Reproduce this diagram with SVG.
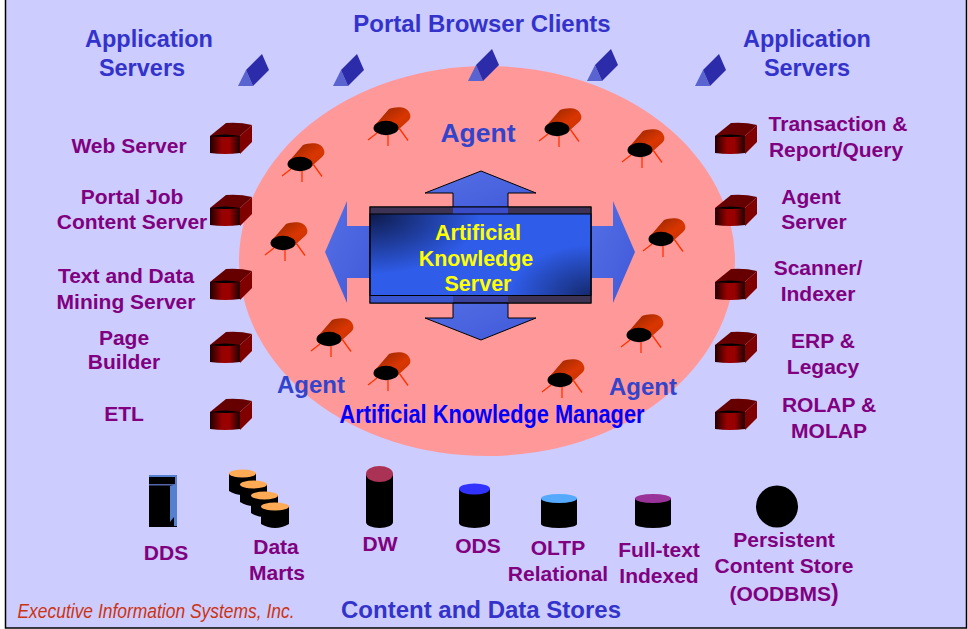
<svg xmlns="http://www.w3.org/2000/svg" width="968" height="629" viewBox="0 0 968 629">
<style>
text{font-family:"Liberation Sans",Arial,sans-serif;font-weight:bold;text-anchor:middle}
.p{fill:#800080;font-size:21px}
.b{fill:#3333cc;font-size:23.500px}
.y{fill:#ffff00;font-size:21.500px}
.leg{stroke:#ff3300;stroke-width:1.3;fill:none}
.arr{stroke:#000;stroke-width:1}
</style>
<defs>
<linearGradient id="cf" x1="0" x2="1" y1="0" y2="0"><stop offset="0" stop-color="#200000"/><stop offset=".4" stop-color="#990000"/><stop offset=".65" stop-color="#990000"/><stop offset="1" stop-color="#200000"/></linearGradient>
<linearGradient id="ag" x1="0" x2="1" y1="0" y2="1"><stop offset="0" stop-color="#8f2500"/><stop offset=".6" stop-color="#d93600"/><stop offset="1" stop-color="#c83200"/></linearGradient>
<radialGradient id="tl" cx="0" cy="0" r="1"><stop offset="0" stop-color="#0d1a4a"/><stop offset="1" stop-color="#0d1a4a" stop-opacity="0"/></radialGradient>
<radialGradient id="br" cx="1" cy="1" r="1"><stop offset="0" stop-color="#14296e"/><stop offset="1" stop-color="#14296e" stop-opacity="0"/></radialGradient>
<linearGradient id="cl" x1="0" x2="1" y1="0" y2="1"><stop offset="0" stop-color="#5570e6"/><stop offset="1" stop-color="#4058d8"/></linearGradient>
<symbol id="cube" overflow="visible">
<path d="M0 13L16 0Q30-1 42 2L30 13Z" fill="#660000"/>
<path d="M30 13L42 2V19L30 31Z" fill="#800000"/>
<path d="M0 13H30V30Q15 32 0 30Z" fill="url(#cf)"/>
<path d="M0 13Q15 10 30 13Q15 15 0 13Z" fill="#000"/>
</symbol>
<symbol id="agent" overflow="visible">
<path d="M-10-4L3-19C10-22 22-22 24-14C25-11 24-9 22-7L12 2Z" fill="url(#ag)"/>
<ellipse rx="12.500" ry="7.200" fill="#000"/>
<path class="leg" d="M-18 12L-9 5M2 7V18M13 0L22 12.500"/>
</symbol>
<symbol id="client" overflow="visible">
<path d="M0 32L8 16L15 32Z" fill="#5a64d0"/>
<path d="M8 16L24 0L31 16L15 32Z" fill="#2c2caa"/>
</symbol>
</defs>
<rect x="5.500" y="-2" width="961" height="630" fill="#ccccff" stroke="#000" stroke-width="1.500"/>
<ellipse id="manager-zone" cx="487" cy="261" rx="248" ry="195" fill="#ff9999"/>

<g id="connectors"></g>

<g id="server">
<path class="arr" fill="url(#cl)" d="M481 171L536 193H508V214H453V193H425Z"/>
<path class="arr" fill="url(#cl)" d="M453 295H508V318H536L481 340L425 318H453Z"/>
<path fill="url(#cl)" d="M325 252L347 201V226H372V278H347V303Z"/>
<path fill="url(#cl)" d="M635 252L613 201V226H590V278H613V303Z"/>
<rect x="370" y="207" width="221" height="96" fill="#3a3f9a" stroke="#000"/>
<rect x="370" y="207" width="221" height="8" fill="#3d3355"/>
<rect x="453" y="207" width="55" height="8" fill="#3a4cc8"/>
<rect x="370" y="295" width="83" height="8" fill="#3a55d0"/>
<rect x="508" y="295" width="83" height="8" fill="#3d3355"/>
<rect x="370" y="214" width="221" height="81.500" fill="#2f5ce8"/>
<rect x="370" y="214" width="110" height="60" fill="url(#tl)"/>
<rect x="511" y="245" width="80" height="50.500" fill="url(#br)"/>
<rect x="370" y="214" width="221" height="81.500" fill="none" stroke="#000"/>
<rect x="370" y="207" width="221" height="96" fill="none" stroke="#000"/>
<text class="y" x="478" y="240">Artificial</text>
<text class="y" x="476" y="266">Knowledge</text>
<text class="y" x="478" y="291">Server</text>
</g>

<g id="clients">
<use href="#client" x="238" y="54"/><use href="#client" x="333" y="54"/><use href="#client" x="468" y="49"/><use href="#client" x="587" y="49"/><use href="#client" x="695" y="54"/>
</g>
<g id="agents">
<use href="#agent" x="300" y="164"/><use href="#agent" x="386" y="128"/><use href="#agent" x="557" y="129"/><use href="#agent" x="640" y="150"/>
<use href="#agent" x="283" y="243"/><use href="#agent" x="661" y="239"/>
<use href="#agent" x="329" y="339"/><use href="#agent" x="639" y="335"/>
<use href="#agent" x="386" y="373"/><use href="#agent" x="560" y="380"/>
</g>
<g id="server-cubes">
<use href="#cube" x="210" y="123"/><use href="#cube" x="210" y="195"/><use href="#cube" x="210" y="269"/><use href="#cube" x="210" y="332"/><use href="#cube" x="210" y="399"/>
<use href="#cube" x="715" y="123"/><use href="#cube" x="715" y="195"/><use href="#cube" x="715" y="269"/><use href="#cube" x="715" y="332"/><use href="#cube" x="715" y="399"/>
</g>

<g id="dds"><rect x="149" y="475" width="28" height="52" fill="#000"/><rect x="149" y="475" width="28" height="2" fill="#5580d0"/><rect x="175" y="475" width="2" height="10" fill="#5580d0"/><rect x="149" y="484" width="28" height="1.500" fill="#5566aa"/><path d="M170 486L177 484V526H174V517L170 522Z" fill="#5580d0"/></g>
<g id="data-marts">
<g id="dm1"><path d="M229 473V491Q242 499 256 491V473Z" fill="#000"/><ellipse cx="242.500" cy="473.500" rx="13.500" ry="4" fill="#ffaa55"/></g>
<g id="dm2"><path d="M240 484V502Q253 510 267 502V484Z" fill="#000"/><ellipse cx="253.500" cy="484.500" rx="13.500" ry="4" fill="#ffaa55"/></g>
<g id="dm3"><path d="M251 495V513Q264 521 278 513V495Z" fill="#000"/><ellipse cx="264.500" cy="495.500" rx="13.500" ry="4" fill="#ffaa55"/></g>
<g id="dm4"><path d="M261 506V524Q275 532 289 524V506Z" fill="#000"/><ellipse cx="275" cy="506.500" rx="14" ry="4" fill="#ffaa55"/></g>
</g>
<g id="dw"><rect x="366" y="474" width="27" height="48" fill="#000"/><ellipse cx="379.500" cy="522" rx="13.500" ry="6" fill="#000"/><ellipse cx="379.500" cy="474" rx="13.500" ry="8" fill="#aa3355"/></g>
<g id="ods"><rect x="459" y="489" width="31" height="34" fill="#000"/><ellipse cx="474.500" cy="523" rx="15.500" ry="5" fill="#000"/><ellipse cx="474.500" cy="489" rx="15.500" ry="5.500" fill="#3333ff"/></g>
<g id="oltp"><rect x="541" y="498" width="36" height="26" fill="#000"/><ellipse cx="559" cy="524" rx="18" ry="4" fill="#000"/><ellipse cx="559" cy="498.500" rx="18" ry="4.500" fill="#55aaff"/></g>
<g id="fulltext"><rect x="635" y="498" width="36" height="26" fill="#000"/><ellipse cx="653" cy="524" rx="18" ry="4" fill="#000"/><ellipse cx="653" cy="498.500" rx="18" ry="4.500" fill="#993399"/></g>
<circle id="persistent" cx="777" cy="506.500" r="21" fill="#000"/>

<g id="labels">
<text class="b" x="149" y="47">Application</text><text class="b" x="142" y="76">Servers</text>
<text class="b" x="482" y="32" style="font-size:24px">Portal Browser Clients</text>
<text class="b" x="807" y="47">Application</text><text class="b" x="807" y="76">Servers</text>
<text x="478" y="142" fill="#3344cc" style="font-size:26.500px">Agent</text>
<text x="311" y="393" fill="#3344cc" style="font-size:24px">Agent</text>
<text x="643" y="395" fill="#3344cc" style="font-size:24px">Agent</text>
<text x="492" y="423" fill="#0000ff" style="font-size:26px" textLength="305" lengthAdjust="spacingAndGlyphs">Artificial Knowledge Manager</text>
<text class="p" x="129" y="153">Web Server</text>
<text class="p" x="132" y="204">Portal Job</text><text class="p" x="132" y="229">Content Server</text>
<text class="p" x="126" y="283">Text and Data</text><text class="p" x="126" y="309">Mining Server</text>
<text class="p" x="124" y="345">Page</text><text class="p" x="124" y="369">Builder</text>
<text class="p" x="124" y="421">ETL</text>
<text class="p" x="838" y="131">Transaction &amp;</text><text class="p" x="836" y="157">Report/Query</text>
<text class="p" x="811" y="204">Agent</text><text class="p" x="814" y="229">Server</text>
<text class="p" x="818" y="275">Scanner/</text><text class="p" x="818" y="301">Indexer</text>
<text class="p" x="823" y="348">ERP &amp;</text><text class="p" x="823" y="374">Legacy</text>
<text class="p" x="829" y="412">ROLAP &amp;</text><text class="p" x="829" y="438">MOLAP</text>
<text class="p" x="166" y="560">DDS</text>
<text class="p" x="276" y="554">Data</text><text class="p" x="277" y="580">Marts</text>
<text class="p" x="380" y="551">DW</text>
<text class="p" x="478" y="553">ODS</text>
<text class="p" x="558" y="555">OLTP</text><text class="p" x="558" y="581">Relational</text>
<text class="p" x="659" y="557">Full-text</text><text class="p" x="659" y="583">Indexed</text>
<text class="p" x="784" y="547">Persistent</text><text class="p" x="784" y="573">Content Store</text><text class="p" x="784" y="601">(OODBMS<tspan style="font-size:23px">)</tspan></text>
<text x="481" y="618" fill="#3333cc" style="font-size:24px">Content and Data Stores</text>
<text x="156" y="618" fill="#cc3311" style="font-size:20px;font-weight:normal;font-style:italic" textLength="277" lengthAdjust="spacingAndGlyphs">Executive Information Systems, Inc.</text>
</g>
</svg>
